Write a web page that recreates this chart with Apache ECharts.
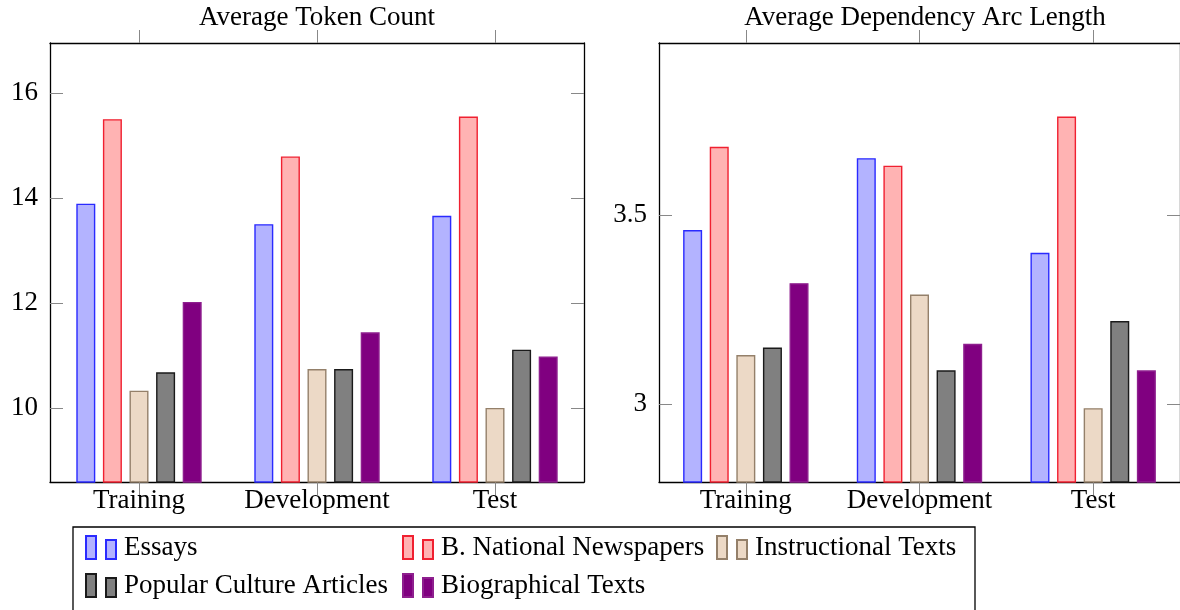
<!DOCTYPE html>
<html>
<head>
<meta charset="utf-8">
<script src="https://cdn.jsdelivr.net/npm/echarts@6/dist/echarts.min.js"></script>
<style>html,body{margin:0;padding:0;background:#fff}#c{width:1180px;height:610px}</style>
</head>
<body>
<div id="c"></div>
<script>
const categories = ['Training', 'Development', 'Test'];
const seriesNames = ['Essays', 'B. National Newspapers', 'Instructional Texts', 'Popular Culture Articles', 'Biographical Texts'];

// Average Token Count
const tokEssays = [13.89, 13.50, 13.66];
const tokNews = [15.50, 14.79, 15.55];
const tokInstr = [10.33, 10.74, 10.00];
const tokPop = [10.68, 10.74, 11.11];
const tokBio = [12.02, 11.44, 10.98];

// Average Dependency Arc Length
const arcEssays = [3.46, 3.65, 3.40];
const arcNews = [3.68, 3.63, 3.76];
const arcInstr = [3.13, 3.29, 2.99];
const arcPop = [3.15, 3.09, 3.22];
const arcBio = [3.32, 3.16, 3.09];

const tokTicks = [10, 12, 14, 16];
const arcTicks = [3, 3.5];

const titles = ['Average Token Count', 'Average Dependency Arc Length'];

const FONT = '"Liberation Serif", "DejaVu Serif", serif';
const styles = [
  {color: '#b3b3ff', borderColor: '#2a2aff'},
  {color: '#ffb3b3', borderColor: '#f02030'},
  {color: '#ecd9c6', borderColor: '#94806a'},
  {color: '#808080', borderColor: '#1a1a1a'},
  {color: '#800080', borderColor: '#8e1f8e'}
];
const tokData = [tokEssays, tokNews, tokInstr, tokPop, tokBio];
const arcData = [arcEssays, arcNews, arcInstr, arcPop, arcBio];

const chart = echarts.init(document.getElementById('c'), null, {renderer: 'canvas'});

const tickStyle = {color: '#888888', width: 1};
const boxLine = {show: true, lineStyle: {color: '#000', width: 1.3}};

function xAxes(gi) {
  return [
    {type: 'category', gridIndex: gi, data: categories, position: 'bottom',
     axisLine: boxLine, axisTick: {show: true, alignWithLabel: true, inside: false, length: 13, lineStyle: tickStyle},
     axisLabel: {color: '#000', fontFamily: FONT, fontSize: 27, margin: 5, interval: 0, hideOverlap: false},
     splitLine: {show: false}},
    {type: 'category', gridIndex: gi, data: categories, position: 'top',
     axisLine: boxLine, axisTick: {show: true, alignWithLabel: true, inside: false, length: 13, lineStyle: tickStyle, interval: 0},
     axisLabel: {show: false, interval: 0}, splitLine: {show: false}}
  ];
}
function yAxes(gi, min, max, ticks) {
  return [
    {type: 'value', gridIndex: gi, min: min, max: max, position: 'left',
     axisLine: boxLine, axisTick: {show: true, inside: true, length: 13, lineStyle: tickStyle, customValues: ticks},
     axisLabel: {color: '#000', fontFamily: FONT, fontSize: 27, margin: 12, customValues: ticks,
                 formatter: v => String(v)},
     splitLine: {show: false}},
    {type: 'value', gridIndex: gi, min: min, max: max, position: 'right',
     axisLine: boxLine, axisTick: {show: true, inside: true, length: 13, lineStyle: tickStyle, customValues: ticks},
     axisLabel: {show: false, customValues: ticks}, splitLine: {show: false}}
  ];
}

const series = [];
[tokData, arcData].forEach((set, gi) => {
  set.forEach((vals, i) => {
    series.push({
      type: 'bar', name: seriesNames[i], xAxisIndex: gi * 2, yAxisIndex: gi * 2,
      data: vals, barWidth: 19, barGap: '40%',
      itemStyle: {color: styles[i].color, borderColor: styles[i].borderColor, borderWidth: 1.4},
      emphasis: {disabled: true}, animation: false
    });
  });
});

const iconPath = 'path://M0,0H10V23H0Z M20,4H30V23H20Z';
const legendPos = [
  {left: 85, top: 534}, {left: 402, top: 534}, {left: 716, top: 534},
  {left: 85, top: 572}, {left: 402, top: 572}
];
const legends = seriesNames.map((n, i) => ({
  data: [n], left: legendPos[i].left, top: legendPos[i].top, padding: 0,
  icon: iconPath, itemWidth: 30, itemHeight: 23, itemGap: 0, selectedMode: false,
  textStyle: {color: '#000', fontFamily: FONT, fontSize: 27, padding: [10, 0, 0, 3]}
}));

chart.setOption({
  backgroundColor: '#fff',
  animation: false,
  grid: [
    {left: 50, top: 43, width: 534, height: 439},
    {left: 659, top: 43, width: 532, height: 439}
  ],
  xAxis: [...xAxes(0), ...xAxes(1)],
  yAxis: [...yAxes(0, 8.59, 16.95, tokTicks), ...yAxes(1, 2.795, 3.954, arcTicks)],
  legend: legends,
  series: series,
  graphic: [
    {type: 'text', x: 317, y: 18, style: {text: titles[0], font: '27px ' + FONT, fill: '#000', textAlign: 'center', textVerticalAlign: 'middle'}},
    {type: 'text', x: 925, y: 18, style: {text: titles[1], font: '27px ' + FONT, fill: '#000', textAlign: 'center', textVerticalAlign: 'middle'}},
    {type: 'rect', shape: {x: 73, y: 527, width: 902, height: 100}, style: {fill: 'none', stroke: '#000', lineWidth: 1.3}, z: -1}
  ]
});
</script>
</body>
</html>
